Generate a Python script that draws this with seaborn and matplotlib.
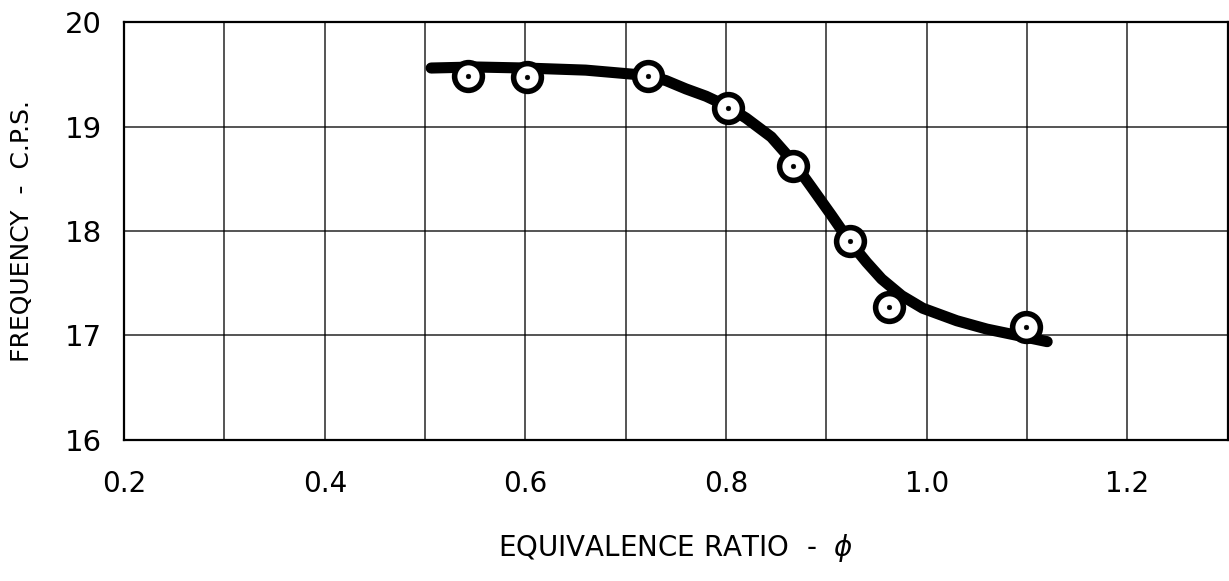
import numpy as np
import pandas as pd
import matplotlib
matplotlib.use("Agg")
import matplotlib.pyplot as plt
import seaborn as sns

# measured points (equivalence ratio vs frequency)
phi_pts = [0.543, 0.602, 0.722, 0.802, 0.867, 0.923, 0.962, 1.099]
freq_pts = [19.48, 19.47, 19.48, 19.18, 18.62, 17.90, 17.27, 17.08]

# hand-faired curve
phi_curve = [0.506, 0.55, 0.60, 0.66, 0.72, 0.74, 0.76, 0.78, 0.80, 0.82, 0.845, 0.867,
             0.885, 0.905, 0.923, 0.94, 0.955, 0.975, 0.996, 1.03, 1.06, 1.09, 1.12]
freq_curve = [19.56, 19.57, 19.56, 19.54, 19.49, 19.44, 19.36, 19.29, 19.20, 19.08, 18.90, 18.66,
              18.42, 18.15, 17.90, 17.70, 17.54, 17.38, 17.26, 17.14, 17.06, 17.00, 16.94]

x_ticks = [0.2, 0.4, 0.6, 0.8, 1.0, 1.2]
x_labels = ["0.2", "0.4", "0.6", "0.8", "1.0", "1.2"]
y_ticks = [16, 17, 18, 19, 20]
y_labels = ["16", "17", "18", "19", "20"]

sns.set_style("white")
plt.rcParams["font.family"] = ["DejaVu Sans"]
plt.rcParams["text.color"] = "black"
plt.rcParams["axes.labelcolor"] = "black"
plt.rcParams["xtick.color"] = "black"
plt.rcParams["ytick.color"] = "black"

fig = plt.figure(figsize=(12.29, 5.81), dpi=100)
ax = fig.add_axes([0.101, 0.243, 0.898, 0.719])

# grid every 0.1 in phi, every 1 in frequency
for gx in np.arange(0.3, 1.3, 0.1):
    ax.axvline(gx, color="black", lw=1.1, alpha=0.85, zorder=1)
for gy in [17, 18, 19]:
    ax.axhline(gy, color="black", lw=1.1, alpha=0.85, zorder=1)

curve = pd.DataFrame({"phi": phi_curve, "freq": freq_curve})
pts = pd.DataFrame({"phi": phi_pts, "freq": freq_pts})

sns.lineplot(data=curve, x="phi", y="freq", color="black", lw=8,
             solid_capstyle="round", solid_joinstyle="round", ax=ax, zorder=3)
sns.scatterplot(data=pts, x="phi", y="freq", s=400, facecolor="white",
                edgecolor="black", linewidth=4, ax=ax, zorder=4)
sns.scatterplot(data=pts, x="phi", y="freq", s=12, color="black",
                edgecolor="black", ax=ax, zorder=5)

ax.set_xlim(0.2, 1.3)
ax.set_ylim(16, 20)
ax.set_xticks(x_ticks)
ax.set_xticklabels(x_labels, fontsize=20)
ax.set_yticks(y_ticks)
ax.set_yticklabels(y_labels, fontsize=21)
ax.tick_params(axis="x", length=0, pad=22)
ax.tick_params(axis="y", length=0, pad=16)
for sp in ax.spines.values():
    sp.set_color("black")
    sp.set_linewidth(1.6)

ax.set_xlabel("EQUIVALENCE RATIO  -  $\\phi$", fontsize=20, labelpad=24)
ax.set_ylabel("FREQUENCY  -  C.P.S.", fontsize=18, labelpad=22)

fig.savefig("out.png", dpi=100, facecolor="white")
